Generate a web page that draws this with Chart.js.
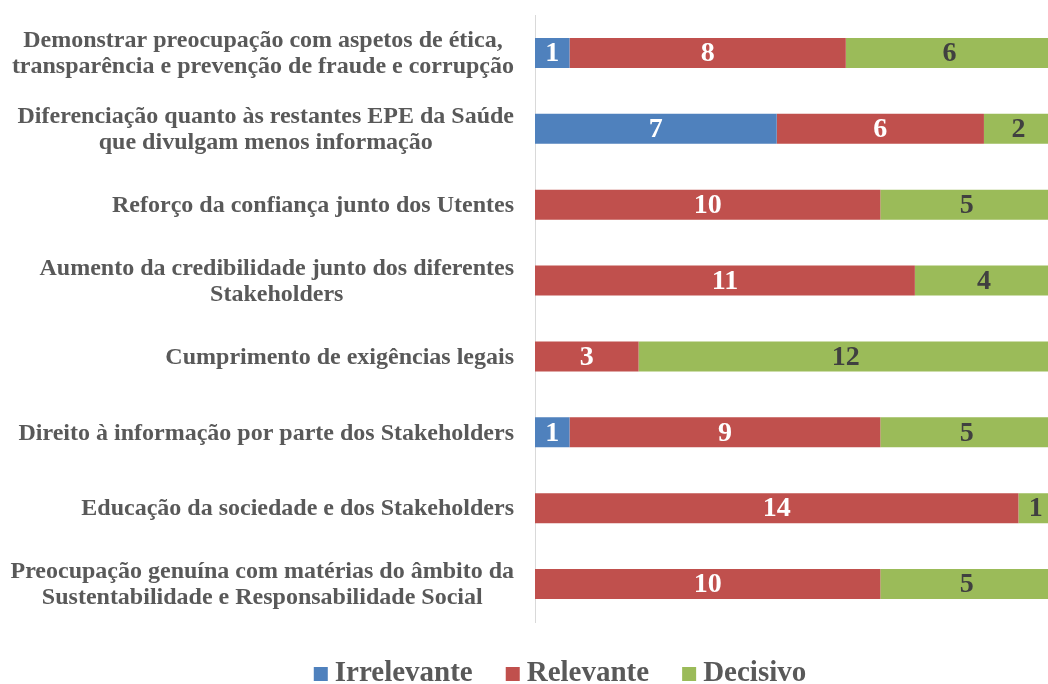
<!DOCTYPE html>
<html>
<head>
<meta charset="utf-8">
<script src="https://cdn.jsdelivr.net/npm/chart.js@4"></script>
<style>
  html, body { margin: 0; padding: 0; background: #fff; overflow: hidden; }
  /* a área do gráfico continua um pouco para lá da margem direita (como no original) */
  #wrap { width: 1048px; height: 684px; overflow: hidden; }
</style>
</head>
<body>
<div id="wrap"><canvas id="grafico" width="1053" height="684"></canvas></div>
<script>
const categorias = [
    ['Demonstrar preocupação com aspetos de ética,', 'transparência e prevenção de fraude e corrupção'],
    ['Diferenciação quanto às restantes EPE da Saúde', 'que divulgam menos informação'],
    ['Reforço da confiança junto dos Utentes'],
    ['Aumento da credibilidade junto dos diferentes', 'Stakeholders'],
    ['Cumprimento de exigências legais'],
    ['Direito à informação por parte dos Stakeholders'],
    ['Educação da sociedade e dos Stakeholders'],
    ['Preocupação genuína com matérias do âmbito da', 'Sustentabilidade e Responsabilidade Social']
];
const irrelevante = [1, 7, 0, 0, 0, 1, 0, 0];
const relevante = [8, 6, 10, 11, 3, 9, 14, 10];
const decisivo = [6, 2, 5, 4, 12, 5, 1, 5];

const fonte = '"Liberation Serif", "Times New Roman", serif';

// rótulos das categorias (bloco alinhado à direita, linhas centradas entre si)
const rotulosCategorias = {
    id: 'rotulosCategorias',
    afterDraw(chart) {
        const ctx = chart.ctx;
        const y = chart.scales.y;
        const xDir = chart.chartArea.left - 21;
        const alturaLinha = 26;
        ctx.save();
        ctx.font = 'bold 24px ' + fonte;
        ctx.fillStyle = '#595959';
        ctx.textBaseline = 'middle';
        ctx.textAlign = 'center';
        categorias.forEach((linhas, i) => {
            const yc = y.getPixelForValue(i) + 1;
            const larg = Math.max(...linhas.map(l => ctx.measureText(l).width));
            const xc = xDir - larg / 2;
            const y0 = yc - (linhas.length - 1) * alturaLinha / 2;
            linhas.forEach((l, k) => ctx.fillText(l, xc, y0 + k * alturaLinha));
        });
        ctx.restore();
    }
};

// valores dentro das barras
const valoresBarras = {
    id: 'valoresBarras',
    afterDatasetsDraw(chart) {
        const ctx = chart.ctx;
        ctx.save();
        ctx.font = 'bold 28px ' + fonte;
        ctx.textAlign = 'center';
        ctx.textBaseline = 'middle';
        chart.data.datasets.forEach((ds, di) => {
            const meta = chart.getDatasetMeta(di);
            meta.data.forEach((bar, i) => {
                const v = ds.data[i];
                if (!v) return;
                ctx.fillStyle = di === 2 ? '#404040' : '#ffffff';
                ctx.fillText(String(v), (bar.x + bar.base) / 2, bar.y + 1);
            });
        });
        ctx.restore();
    }
};

// legenda em baixo
const legendaBaixo = {
    id: 'legendaBaixo',
    afterDraw(chart) {
        const ctx = chart.ctx;
        const ds = chart.data.datasets;
        const caixa = 14, gapTexto = 7, gapItem = 33;
        const yc = 673;
        ctx.save();
        ctx.font = 'bold 29px ' + fonte;
        ctx.textBaseline = 'middle';
        ctx.textAlign = 'left';
        const largs = ds.map(d => ctx.measureText(d.label).width);
        const total = largs.reduce((s, w) => s + caixa + gapTexto + w, 0) + gapItem * (ds.length - 1);
        let x = 560 - total / 2;
        ds.forEach((d, i) => {
            ctx.fillStyle = d.backgroundColor;
            ctx.fillRect(x, yc - caixa / 2 + 1, caixa, caixa);
            ctx.fillStyle = '#595959';
            ctx.fillText(d.label, x + caixa + gapTexto, yc + 1);
            x += caixa + gapTexto + largs[i] + gapItem;
        });
        ctx.restore();
    }
};

new Chart(document.getElementById('grafico').getContext('2d'), {
    type: 'bar',
    data: {
        labels: categorias.map(c => c.join(' ')),
        datasets: [{
            label: 'Irrelevante',
            data: irrelevante,
            backgroundColor: '#4F81BD'
        }, {
            label: 'Relevante',
            data: relevante,
            backgroundColor: '#C0504D'
        }, {
            label: 'Decisivo',
            data: decisivo,
            backgroundColor: '#9BBB59'
        }]
    },
    options: {
        indexAxis: 'y',
        responsive: false,
        animation: false,
        layout: { padding: { left: 0, right: 0, top: 15, bottom: 62 } },
        datasets: {
            bar: { categoryPercentage: 1, barPercentage: 0.395, borderWidth: 0 }
        },
        scales: {
            x: { stacked: true, min: 0, max: 15, display: false },
            y: {
                stacked: true,
                grid: { display: false },
                border: { display: true, color: '#d9d9d9', width: 1 },
                ticks: { display: false },
                afterFit(scale) { scale.width = 535; }
            }
        },
        plugins: {
            legend: { display: false },
            tooltip: { enabled: false }
        }
    },
    plugins: [rotulosCategorias, valoresBarras, legendaBaixo]
});
</script>
</body>
</html>
